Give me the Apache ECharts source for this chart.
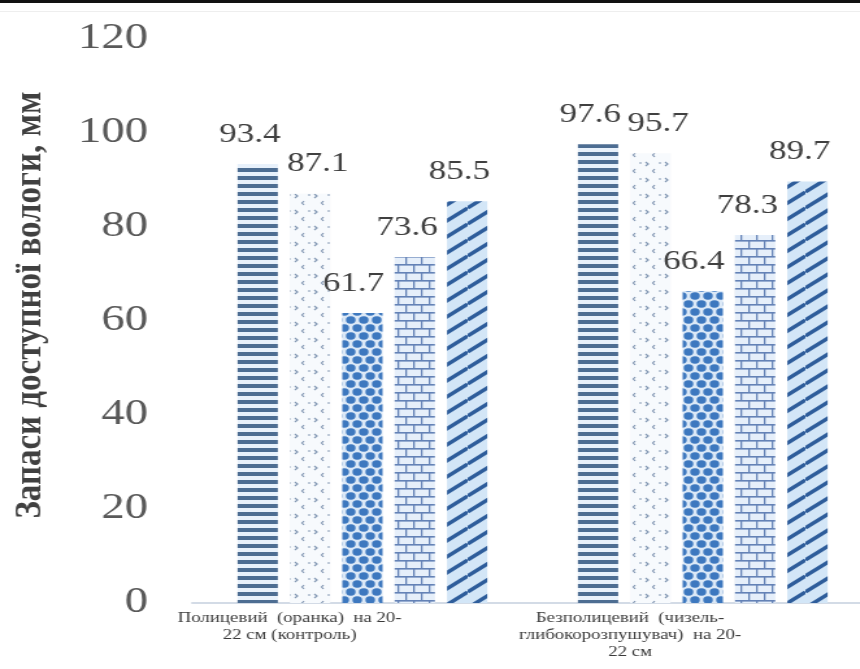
<!DOCTYPE html>
<html>
<head>
<meta charset="utf-8">
<script src="https://cdn.jsdelivr.net/npm/echarts@6/dist/echarts.min.js"></script>
<style>
  html, body { margin: 0; padding: 0; background: #ffffff; }
  #frame { width: 860px; height: 669px; overflow: hidden; position: relative; }
  /* the chart is laid out narrower and widened horizontally, giving the wide-set lettering */
  #chart { width: 700px; height: 669px; transform: scaleX(1.299); transform-origin: 0 0; }
</style>
</head>
<body>
<div id="frame"><div id="chart"></div></div>
<script>
// Categories (tillage variants) and the available moisture reserves, mm
const categories = [
  'Полицевий  (оранка)  на 20-\n22 см (контроль)',
  'Безполицевий  (чизель-\nглибокорозпушувач)  на 20-\n22 см'
];
const series1 = [93.4, 97.6];
const series2 = [87.1, 95.7];
const series3 = [61.7, 66.4];
const series4 = [73.6, 78.3];
const series5 = [85.5, 89.7];
const yTicks = { min: 0, max: 120, interval: 20 };
const yTitle = 'Запаси доступної вологи, мм';

// ---- fill patterns for the bars ----
function makeCanvas(w, h, bg) {
  const c = document.createElement('canvas');
  c.width = w; c.height = h;
  const ctx = c.getContext('2d');
  ctx.fillStyle = bg;
  ctx.fillRect(0, 0, w, h);
  return [c, ctx];
}

function patternHLines() {
  const [c, ctx] = makeCanvas(8, 8, '#e8f1fb');
  ctx.fillStyle = '#4d6d92';
  ctx.fillRect(0, 0, 8, 4);
  return c;
}

function patternDots() {
  const [c, ctx] = makeCanvas(15, 16, '#f7fafd');
  ctx.strokeStyle = '#8196b2';
  ctx.lineWidth = 1.2;
  ctx.beginPath();
  // small chevrons and dashes
  ctx.moveTo(2, 2); ctx.lineTo(4, 4); ctx.lineTo(2, 6);
  ctx.moveTo(9, 9); ctx.lineTo(7.5, 11); ctx.lineTo(9, 13);
  ctx.moveTo(12, 3); ctx.lineTo(14, 3);
  ctx.stroke();
  return c;
}

function patternCircles() {
  const [c, ctx] = makeCanvas(10, 16, '#dce9f7');
  ctx.fillStyle = '#3d78bf';
  const pts = [[0, 0], [10, 0], [0, 16], [10, 16], [5, 8]];
  pts.forEach(([x, y]) => {
    ctx.beginPath();
    ctx.arc(x, y, 3.7, 0, Math.PI * 2);
    ctx.fill();
  });
  return c;
}

function patternBricks() {
  const [c, ctx] = makeCanvas(12, 16, '#e6effa');
  ctx.fillStyle = '#6482b6';
  ctx.fillRect(0, 0, 12, 1.6);
  ctx.fillRect(0, 8, 12, 1.6);
  ctx.fillRect(0, 0, 1.3, 8);
  ctx.fillRect(6, 8, 1.3, 8);
  return c;
}

function patternDiagonal() {
  const w = 20, h = 16;
  const [c, ctx] = makeCanvas(w, h, '#d3e6f7');
  ctx.strokeStyle = '#2e5d9b';
  ctx.lineWidth = 3.4;
  ctx.beginPath();
  for (let k = -1; k <= 1; k++) {
    ctx.moveTo(0, h + k * h);
    ctx.lineTo(w, k * h);
  }
  ctx.stroke();
  return c;
}

const fills = [patternHLines(), patternDots(), patternCircles(), patternBricks(), patternDiagonal()];
const values = [series1, series2, series3, series4, series5];
// value labels sit slightly left of their bars, the second series' slightly right
const labelShift = [-6, 6, -7, -6, -6];
const serif = '"Liberation Serif", "DejaVu Serif", serif';

const chart = echarts.init(document.getElementById('chart'));

chart.setOption({
  backgroundColor: '#ffffff',
  animation: false,
  grid: { left: 148, right: 28, top: 39, bottom: 66, containLabel: false },
  xAxis: {
    type: 'category',
    data: categories,
    axisLine: { show: true, lineStyle: { color: '#d3dbe6', width: 2 } },
    axisTick: { show: false },
    axisLabel: {
      interval: 0,
      margin: 7,
      fontFamily: serif,
      fontSize: 14.5,
      lineHeight: 17,
      color: '#3a3a3a',
      align: 'center',
      padding: [0, 112, 0, 0]
    }
  },
  yAxis: {
    type: 'value',
    min: yTicks.min,
    max: yTicks.max,
    interval: yTicks.interval,
    axisLine: { show: false },
    axisTick: { show: false },
    splitLine: { show: false },
    axisLabel: {
      margin: 34,
      fontFamily: serif,
      fontSize: 36,
      color: '#595959'
    }
  },
  graphic: [
    {
      type: 'rect',
      shape: { x: 0, y: 0, width: 700, height: 3 },
      style: { fill: '#111111' }
    },
    {
      type: 'rect',
      shape: { x: 0, y: 11, width: 700, height: 1 },
      style: { fill: '#eeeeee' }
    },
    {
      type: 'text',
      x: 23,
      y: 305,
      rotation: Math.PI / 2,
      scaleX: 1.1,
      style: {
        text: yTitle,
        fontFamily: serif,
        fontSize: 30,
        fontWeight: 'bold',
        fill: '#404040',
        align: 'center',
        verticalAlign: 'middle'
      }
    }
  ],
  series: values.map((v, i) => ({
    name: 'Ряд ' + (i + 1),
    type: 'bar',
    data: v,
    barWidth: 31,
    barGap: '30%',
    itemStyle: { color: { image: fills[i], repeat: 'repeat' } },
    label: {
      show: true,
      position: 'top',
      distance: 16,
      offset: [labelShift[i], 0],
      fontFamily: serif,
      fontSize: 27,
      color: '#404040'
    }
  }))
});
</script>
</body>
</html>
